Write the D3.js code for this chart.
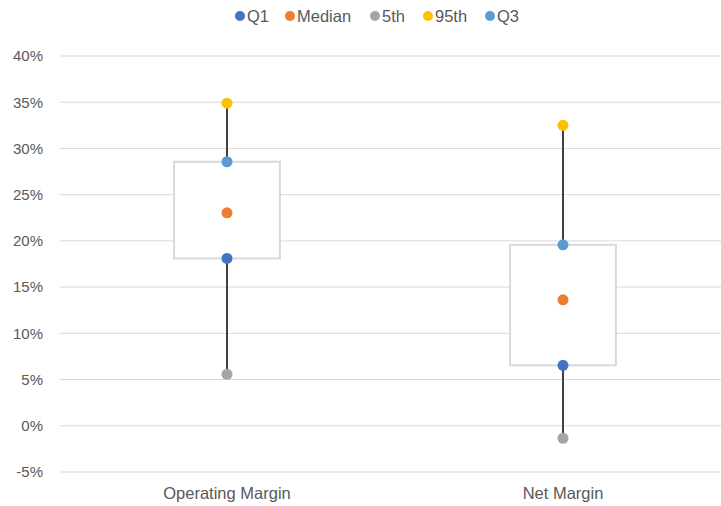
<!DOCTYPE html>
<html><head><meta charset="utf-8">
<script src="https://cdn.jsdelivr.net/npm/d3@7"></script>
<style>body{margin:0;background:#fff;} svg{display:block;}</style>
</head><body>
<svg id="chart" width="721" height="506"></svg>
<script>
const categories = ["Operating Margin", "Net Margin"];
const p5 = [0.0557, -0.0135];
const q1 = [0.181, 0.0654];
const median = [0.2304, 0.1363];
const q3 = [0.2856, 0.1958];
const p95 = [0.349, 0.325];
const tickValues = [-0.05, 0, 0.05, 0.10, 0.15, 0.20, 0.25, 0.30, 0.35, 0.40];

const series = [
  {name: "Q1", values: q1, color: "#4472C4"},
  {name: "Median", values: median, color: "#ED7D31"},
  {name: "5th", values: p5, color: "#A5A5A5"},
  {name: "95th", values: p95, color: "#FFC000"},
  {name: "Q3", values: q3, color: "#5B9BD5"}
];

const svg = d3.select("#chart");
const font = "'Liberation Sans', Arial, sans-serif";
const x = d3.scaleBand().domain(categories).range([59, 731]);
const y = d3.scaleLinear().domain([-0.05, 0.40]).range([472, 56]);

// gridlines
svg.append("g").selectAll("line").data(tickValues).join("line")
  .attr("x1", 60).attr("x2", 721)
  .attr("y1", d => y(d)).attr("y2", d => y(d))
  .attr("stroke", "#D9D9D9").attr("stroke-width", 1);

// y axis labels
const pct = d3.format(".0%");
const yAxis = d3.axisLeft(y).tickValues(tickValues).tickFormat(d => pct(d).replace("\u2212", "-")).tickSize(0).tickPadding(0);
const ga = svg.append("g").attr("transform", "translate(43,0)").call(yAxis);
ga.select(".domain").remove();
ga.selectAll("text").attr("fill", "#595959").style("font-family", font).style("font-size", "15px");

// x axis labels
const xAxis = d3.axisBottom(x).tickSize(0).tickPadding(0);
const gx = svg.append("g").attr("transform", "translate(0,487)").call(xAxis);
gx.select(".domain").remove();
gx.selectAll("text").attr("fill", "#595959").style("font-family", font).style("font-size", "16.5px");

const boxW = x.bandwidth() * 0.315;
// boxes
svg.append("g").selectAll("rect").data(categories).join("rect")
  .attr("x", d => x(d) + x.bandwidth()/2 - boxW/2)
  .attr("width", boxW)
  .attr("y", (d,i) => y(q3[i]))
  .attr("height", (d,i) => y(q1[i]) - y(q3[i]))
  .attr("fill", "#fff").attr("stroke", "#D9D9D9").attr("stroke-width", 2);

// whiskers
const wg = svg.append("g");
categories.forEach((c,i) => {
  const cx = x(c) + x.bandwidth()/2;
  wg.append("line").attr("x1", cx).attr("x2", cx).attr("y1", y(p95[i])).attr("y2", y(q3[i]))
    .attr("stroke", "#404040").attr("stroke-width", 2);
  wg.append("line").attr("x1", cx).attr("x2", cx).attr("y1", y(q1[i])).attr("y2", y(p5[i]))
    .attr("stroke", "#404040").attr("stroke-width", 2);
});

// dots
series.forEach(s => {
  svg.append("g").selectAll("circle").data(s.values).join("circle")
    .attr("cx", (d,i) => x(categories[i]) + x.bandwidth()/2)
    .attr("cy", d => y(d)).attr("r", 5.5).attr("fill", s.color);
});

// legend
const legendX = [240, 290, 375, 428, 490];
const lg = svg.append("g");
series.forEach((s,i) => {
  lg.append("circle").attr("cx", legendX[i]).attr("cy", 16).attr("r", 5).attr("fill", s.color);
  lg.append("text").attr("x", legendX[i] + 7).attr("y", 16).attr("dy", "0.35em")
    .attr("fill", "#595959").style("font-family", font).style("font-size", "16.5px").text(s.name);
});
</script>
</body></html>
